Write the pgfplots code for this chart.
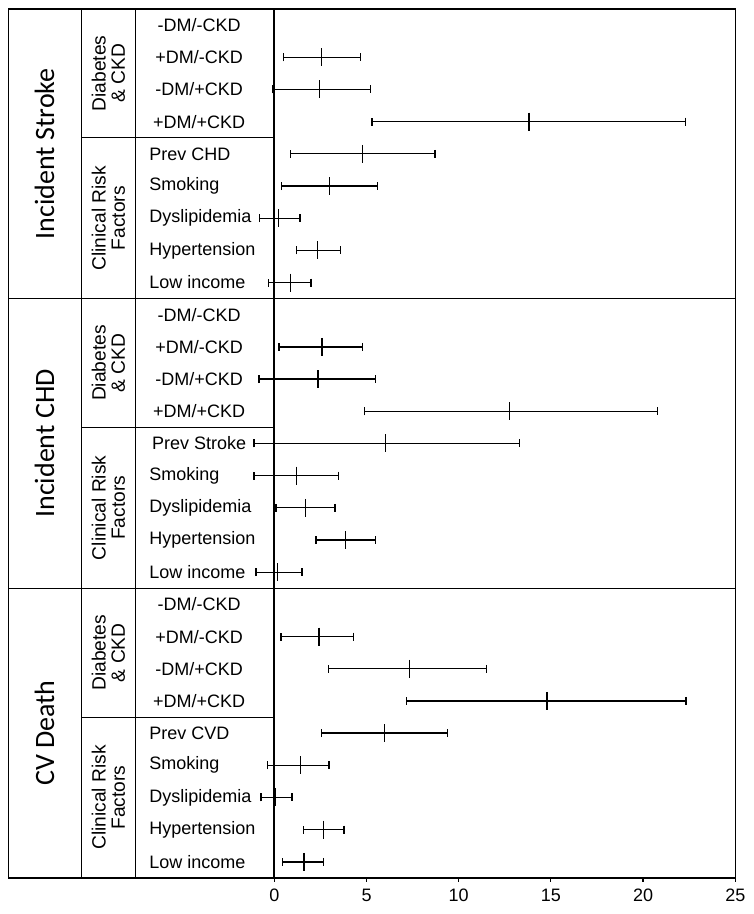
\documentclass[border=0pt]{standalone}
\usepackage{fontspec}
\setmainfont{Liberation Sans}
\newfontfamily\titlefont{Carlito}
\usepackage{pgfplots}
\usepackage{pgfplotstable}
\pgfplotsset{compat=1.18}

% y = row centre, lo / mid / hi = CI and estimate
\pgfplotstableread{
y    lo    mid   hi
25.5 0.51  2.57  4.68
24.5 -0.11 2.44  5.21
23.5 5.30  13.81 22.31
22.5 0.89  4.77  8.71
21.5 0.38  3.00  5.59
20.5 -0.79 0.22  1.39
19.5 1.21  2.33  3.60
18.5 -0.32 0.87  1.99
}\stroke
\pgfplotstableread{
y    lo    mid   hi
16.5 0.25  2.59  4.77
15.5 -0.83 2.37  5.48
14.5 4.88  12.75 20.79
13.5 -1.10 6.04  13.29
12.5 -1.10 1.21  3.49
11.5 0.09  1.68  3.29
10.5 2.26  3.87  5.48
9.5  -0.99 0.16  1.50
}\chd
\pgfplotstableread{
y    lo    mid   hi
7.5  0.36  2.42  4.28
6.5  2.95  7.32  11.50
5.5  7.18  14.79 22.32
4.5  2.55  5.98  9.40
3.5  -0.38 1.43  2.96
2.5  -0.72 0.07  0.96
1.5  1.57  2.68  3.78
0.5  0.45  1.61  2.66
}\cvd

\tikzset{lbl/.style={font=\fontsize{9}{10}\selectfont, inner sep=0pt},
  grp/.style={rotate=90, align=center, font=\fontsize{9.6}{9.6}\selectfont},
  ttl/.style={rotate=90, font=\titlefont\fontsize{14}{16}\selectfont}}

\begin{document}
\begin{tikzpicture}
\begin{axis}[
    scale only axis,
    width=363.5pt, height=434.5pt,
    xmin=-14.43, xmax=25, ymin=0, ymax=27,
    xtick={0,5,10,15,20,25}, ytick=\empty,
    xtick pos=left, tick align=outside,
    major tick length=2pt,
    tick style={black, line width=0.6pt},
    axis line style={line width=0.6pt},
    xticklabel style={font=\fontsize{9}{10}\selectfont},
    /pgf/number format/assume math mode=true,
    clip=false,
]
\path (axis cs:-14.88,27.28) (axis cs:26.01,-1.12);

% table grid
\draw[line width=0.5pt] (axis cs:-10.48,0) -- (axis cs:-10.48,27);
\draw[line width=0.5pt] (axis cs:-7.52,0) -- (axis cs:-7.52,27);
\draw[line width=1pt] (axis cs:0,0) -- (axis cs:0,27);
\draw[line width=0.7pt] (axis cs:-14.43,18) -- (axis cs:25,18);
\draw[line width=0.7pt] (axis cs:-14.43,9) -- (axis cs:25,9);
\draw[line width=0.5pt] (axis cs:-10.48,23) -- (axis cs:0,23);
\draw[line width=0.5pt] (axis cs:-10.48,14) -- (axis cs:0,14);
\draw[line width=0.5pt] (axis cs:-10.48,5) -- (axis cs:0,5);

% panel titles
\node[ttl] at (axis cs:-12.46,22.5) {Incident Stroke};
\node[ttl] at (axis cs:-12.46,13.5) {Incident CHD};
\node[ttl] at (axis cs:-12.46,4.5) {CV Death};

% group labels
\node[grp] at (axis cs:-9.0,25) {Diabetes\\\& CKD};
\node[grp] at (axis cs:-9.0,20.5) {Clinical Risk\\Factors};
\node[grp] at (axis cs:-9.0,16) {Diabetes\\\& CKD};
\node[grp] at (axis cs:-9.0,11.5) {Clinical Risk\\Factors};
\node[grp] at (axis cs:-9.0,7) {Diabetes\\\& CKD};
\node[grp] at (axis cs:-9.0,2.5) {Clinical Risk\\Factors};

% row labels, panel 1
\node[lbl] at (axis cs:-4.08,26.5) {-DM/-CKD};
\node[lbl] at (axis cs:-4.08,25.5) {+DM/-CKD};
\node[lbl] at (axis cs:-4.08,24.5) {-DM/+CKD};
\node[lbl] at (axis cs:-4.08,23.5) {+DM/+CKD};
\node[lbl, anchor=west] at (axis cs:-6.8,22.5) {Prev CHD};
\node[lbl, anchor=west] at (axis cs:-6.8,21.5) {Smoking};
\node[lbl, anchor=west] at (axis cs:-6.8,20.5) {Dyslipidemia};
\node[lbl, anchor=west] at (axis cs:-6.8,19.5) {Hypertension};
\node[lbl, anchor=west] at (axis cs:-6.8,18.5) {Low income};
% panel 2
\node[lbl] at (axis cs:-4.08,17.5) {-DM/-CKD};
\node[lbl] at (axis cs:-4.08,16.5) {+DM/-CKD};
\node[lbl] at (axis cs:-4.08,15.5) {-DM/+CKD};
\node[lbl] at (axis cs:-4.08,14.5) {+DM/+CKD};
\node[lbl, anchor=west] at (axis cs:-6.65,13.5) {Prev Stroke};
\node[lbl, anchor=west] at (axis cs:-6.8,12.5) {Smoking};
\node[lbl, anchor=west] at (axis cs:-6.8,11.5) {Dyslipidemia};
\node[lbl, anchor=west] at (axis cs:-6.8,10.5) {Hypertension};
\node[lbl, anchor=west] at (axis cs:-6.8,9.5) {Low income};
% panel 3
\node[lbl] at (axis cs:-4.08,8.5) {-DM/-CKD};
\node[lbl] at (axis cs:-4.08,7.5) {+DM/-CKD};
\node[lbl] at (axis cs:-4.08,6.5) {-DM/+CKD};
\node[lbl] at (axis cs:-4.08,5.5) {+DM/+CKD};
\node[lbl, anchor=west] at (axis cs:-6.8,4.5) {Prev CVD};
\node[lbl, anchor=west] at (axis cs:-6.8,3.5) {Smoking};
\node[lbl, anchor=west] at (axis cs:-6.8,2.5) {Dyslipidemia};
\node[lbl, anchor=west] at (axis cs:-6.8,1.5) {Hypertension};
\node[lbl, anchor=west] at (axis cs:-6.8,0.5) {Low income};

\pgfplotsset{ci/.style={
    black, line width=0.65pt, only marks, mark=|, mark size=4.5pt,
    error bars/.cd, x dir=both, x explicit, error mark=|,
    error bar style={line width=0.65pt},
    error mark options={black, mark size=2pt, line width=0.65pt}}}
\addplot[ci] table[x=mid, y=y,
    x error plus expr=\thisrow{hi}-\thisrow{mid},
    x error minus expr=\thisrow{mid}-\thisrow{lo}] {\stroke};
\addplot[ci] table[x=mid, y=y,
    x error plus expr=\thisrow{hi}-\thisrow{mid},
    x error minus expr=\thisrow{mid}-\thisrow{lo}] {\chd};
\addplot[ci] table[x=mid, y=y,
    x error plus expr=\thisrow{hi}-\thisrow{mid},
    x error minus expr=\thisrow{mid}-\thisrow{lo}] {\cvd};
\end{axis}
\end{tikzpicture}
\end{document}
